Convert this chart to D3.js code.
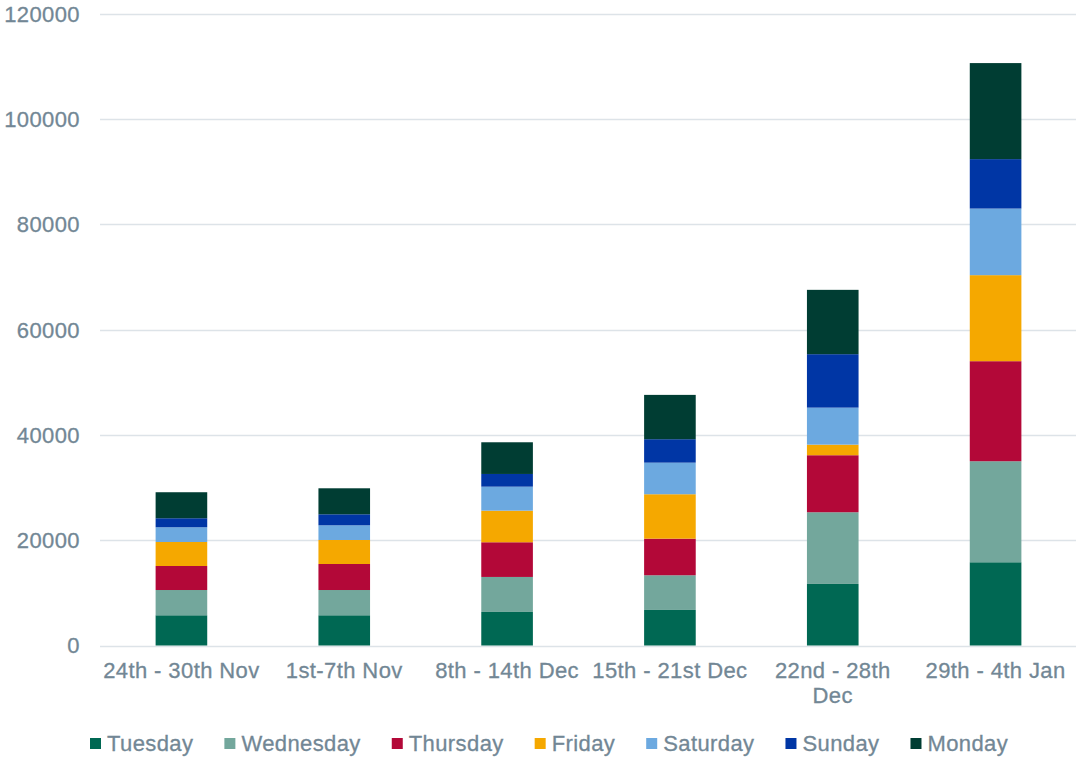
<!DOCTYPE html>
<html>
<head>
<meta charset="utf-8">
<script src="https://cdn.jsdelivr.net/npm/d3@7"></script>
<style>
  body { margin: 0; background: #fff; }
  svg { display: block; }
  text { letter-spacing: 0.4px; }
</style>
</head>
<body>
<div id="chart"></div>
<script>
var weeks = ["24th - 30th Nov", "1st-7th Nov", "8th - 14th Dec", "15th - 21st Dec", "22nd - 28th Dec", "29th - 4th Jan"];
var weekLabels = [["24th - 30th Nov"], ["1st-7th Nov"], ["8th - 14th Dec"], ["15th - 21st Dec"], ["22nd - 28th", "Dec"], ["29th - 4th Jan"]];
var days = ["Tuesday", "Wednesday", "Thursday", "Friday", "Saturday", "Sunday", "Monday"];
var dayColors = ["#006853", "#73a79c", "#b30838", "#f5a800", "#6ca9e0", "#0036a5", "#003d33"];

var tuesday   = [5740, 5740, 6370, 6750, 11690, 15810];
var wednesday = [4800, 4800, 6650, 6590, 13620, 19190];
var thursday  = [4560, 4940, 6590, 6950, 10830, 19000];
var friday    = [4560, 4560, 6000, 8440, 2010, 16340];
var saturday  = [2800, 2790, 4560, 6000, 7030, 12650];
var sunday    = [1710, 2090, 2410, 4450, 10150, 9390];
var monday    = [4940, 4940, 6020, 8420, 12220, 18240];

var yTicks = [0, 20000, 40000, 60000, 80000, 100000, 120000];

var width = 1076, height = 757;
var textColor = "#728795";
var font = "'Liberation Sans', Arial, sans-serif";

var series = [tuesday, wednesday, thursday, friday, saturday, sunday, monday];
var rows = weeks.map(function (w, i) {
  var r = {week: w};
  days.forEach(function (d, j) { r[d] = series[j][i]; });
  return r;
});
var stacked = d3.stack().keys(days)(rows);

var svg = d3.select("#chart").append("svg")
  .attr("width", width)
  .attr("height", height);

var x = d3.scaleBand().domain(weeks).range([100, 1077]).paddingInner(0.683).paddingOuter(0.3415);
var y = d3.scaleLinear().domain([0, 120000]).range([645.5, 13.7]);

// gridlines
svg.append("g")
  .selectAll("line")
  .data(yTicks)
  .enter().append("line")
  .attr("x1", 100)
  .attr("x2", 1076)
  .attr("y1", function (d) { return Math.round(y(d)) + 0.5; })
  .attr("y2", function (d) { return Math.round(y(d)) + 0.5; })
  .attr("stroke", "#dde3e8")
  .attr("stroke-width", 1.5);

// y labels
svg.append("g")
  .selectAll("text")
  .data(yTicks)
  .enter().append("text")
  .attr("x", 80)
  .attr("y", function (d) { return y(d); })
  .attr("dy", "0.36em")
  .attr("text-anchor", "end")
  .attr("fill", textColor)
  .attr("stroke", textColor)
  .attr("stroke-width", 0.3)
  .style("font-family", font)
  .style("font-size", "22px")
  .text(function (d) { return d; });

// bars
svg.append("g")
  .selectAll("g")
  .data(stacked)
  .enter().append("g")
  .attr("fill", function (d, i) { return dayColors[i]; })
  .selectAll("rect")
  .data(function (d) { return d; })
  .enter().append("rect")
  .attr("x", function (d) { return x(d.data.week); })
  .attr("width", x.bandwidth())
  .attr("y", function (d) { return y(d[1]); })
  .attr("height", function (d) { return y(d[0]) - y(d[1]); });

// x labels
var xl = svg.append("g")
  .selectAll("text")
  .data(weeks)
  .enter().append("text")
  .attr("x", function (d) { return x(d) + x.bandwidth() / 2; })
  .attr("y", 678)
  .attr("text-anchor", "middle")
  .attr("fill", textColor)
  .attr("stroke", textColor)
  .attr("stroke-width", 0.3)
  .style("font-family", font)
  .style("font-size", "22px");

xl.selectAll("tspan")
  .data(function (d, i) { return weekLabels[i]; })
  .enter().append("tspan")
  .attr("x", function () { var w = d3.select(this.parentNode).datum(); return x(w) + x.bandwidth() / 2; })
  .attr("dy", function (d, i) { return i === 0 ? 0 : 25; })
  .text(function (d) { return d; });

// legend
var legend = svg.append("g");
var cx = 90;
days.forEach(function (d, i) {
  legend.append("rect")
    .attr("x", cx)
    .attr("y", 738)
    .attr("width", 11)
    .attr("height", 11)
    .attr("fill", dayColors[i]);
  var t = legend.append("text")
    .attr("x", cx + 17)
    .attr("y", 751)
    .attr("fill", textColor)
    .attr("stroke", textColor)
    .attr("stroke-width", 0.3)
    .style("font-family", font)
    .style("font-size", "22px")
    .text(d);
  cx = cx + 17 + t.node().getComputedTextLength() + 31;
});
</script>
</body>
</html>
